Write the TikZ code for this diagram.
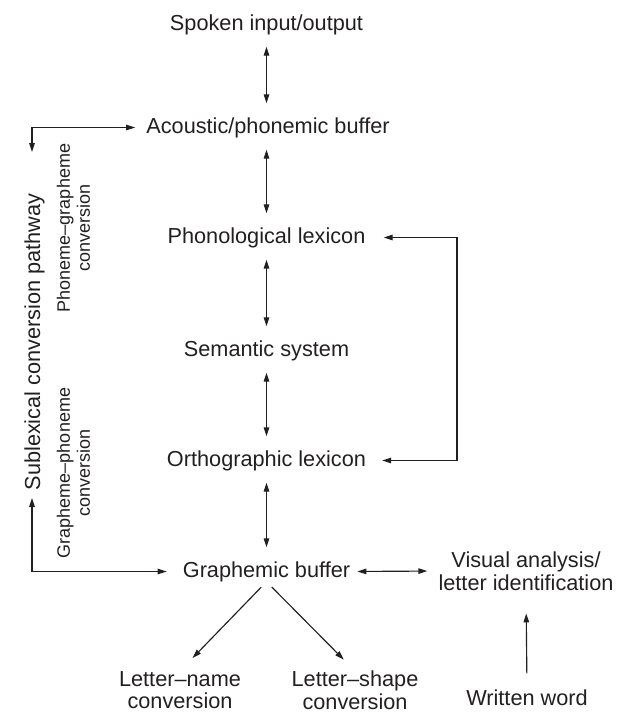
\documentclass[tikz,border=0pt]{standalone}
\usepackage{fontspec}
\setmainfont{Liberation Sans}
\usetikzlibrary{arrows.meta}
\definecolor{ink}{RGB}{35,31,32}
\begin{document}
\begin{tikzpicture}[x=1pt,y=-1pt,
  lbl/.style={inner sep=0pt, text=ink, font=\fontsize{21.7}{22.5}\selectfont},
  one/.style={lbl, anchor=base, text height=15.5pt, text depth=4.5pt},
  two/.style={lbl, align=center},
  sidelbl/.style={inner sep=0pt, text=ink, rotate=90, align=center, font=\fontsize{18}{20}\selectfont},
  tip/.style={Triangle[length=9pt,width=5.5pt]},
  conn/.style={draw=ink, line width=1.15pt, {Triangle[length=9pt,width=5.5pt]}-{Triangle[length=9pt,width=5.5pt]}},
  oneway/.style={draw=ink, line width=1.15pt, -{Triangle[length=9pt,width=5.5pt]}},
  vert/.style={conn, shorten <=12pt, shorten >=14pt}]
\useasboundingbox (0,0) rectangle (622,715);

% main column
\node[one] (spoken)  at (266.5,30)  {Spoken input/output};
\node[one] (acoustic) at (268,133) {Acoustic/phonemic buffer};
\node[one] (phon)    at (266.5,243) {Phonological lexicon};
\node[one] (sem)     at (266.5,356) {Semantic system};
\node[one] (orth)    at (266.5,466) {Orthographic lexicon};
\node[one] (graph)   at (266.5,577) {Graphemic buffer};

% right and bottom
\node[two, anchor=center] (visual) at (526,571) {Visual analysis/\\letter identification};
\node[one] (written) at (527,705) {Written word};
\node[two, anchor=north] (lname)  at (180,671) {Letter–name\\conversion};
\node[two, anchor=north] (lshape) at (355,671) {Letter–shape\\conversion};

% left side labels
\node[sidelbl, anchor=base, font=\fontsize{21.7}{22.5}\selectfont] (sublex) at (40,342) {Sublexical conversion pathway};
\node[sidelbl, anchor=center] (pg) at (73.5,228) {Phoneme–grapheme\\conversion};
\node[sidelbl, anchor=center] (gp) at (73.5,473) {Grapheme–phoneme\\conversion};

% vertical double arrows
\draw[vert] (spoken.south) -- (spoken.south |- acoustic.north);
\draw[vert] (phon.north |- acoustic.south) -- (phon.north);
\draw[vert] (phon.south) -- (sem.north);
\draw[vert] (sem.south) -- (orth.north);
\draw[vert] (orth.south) -- (graph.north);

% graphemic <-> visual
\draw[conn, shorten <=7pt, shorten >=11pt] (graph.east) -- (visual.west);
% written word -> visual
\draw[oneway, shorten <=16pt, shorten >=23pt] (written.north) -- (visual.south);
% branches
\draw[oneway, shorten <=7.5pt, shorten >=18pt] (graph.south) -- (lname.north);
\draw[oneway, shorten <=7.5pt, shorten >=16pt] (graph.south) -- (lshape.north);

% right loop
\coordinate (rx) at (457,0);
\draw[conn, shorten <=18pt, shorten >=16pt] (phon.east) -- (phon.east -| rx) -- (orth.east -| rx) -- (orth.east);

% left connectors
\coordinate (ltop) at (32,152);
\coordinate (lbot) at (32,498);
\draw[conn, shorten >=11pt] (ltop) |- (acoustic.west);
\draw[conn, shorten >=16pt] (lbot) |- (graph.west);
\end{tikzpicture}
\end{document}
